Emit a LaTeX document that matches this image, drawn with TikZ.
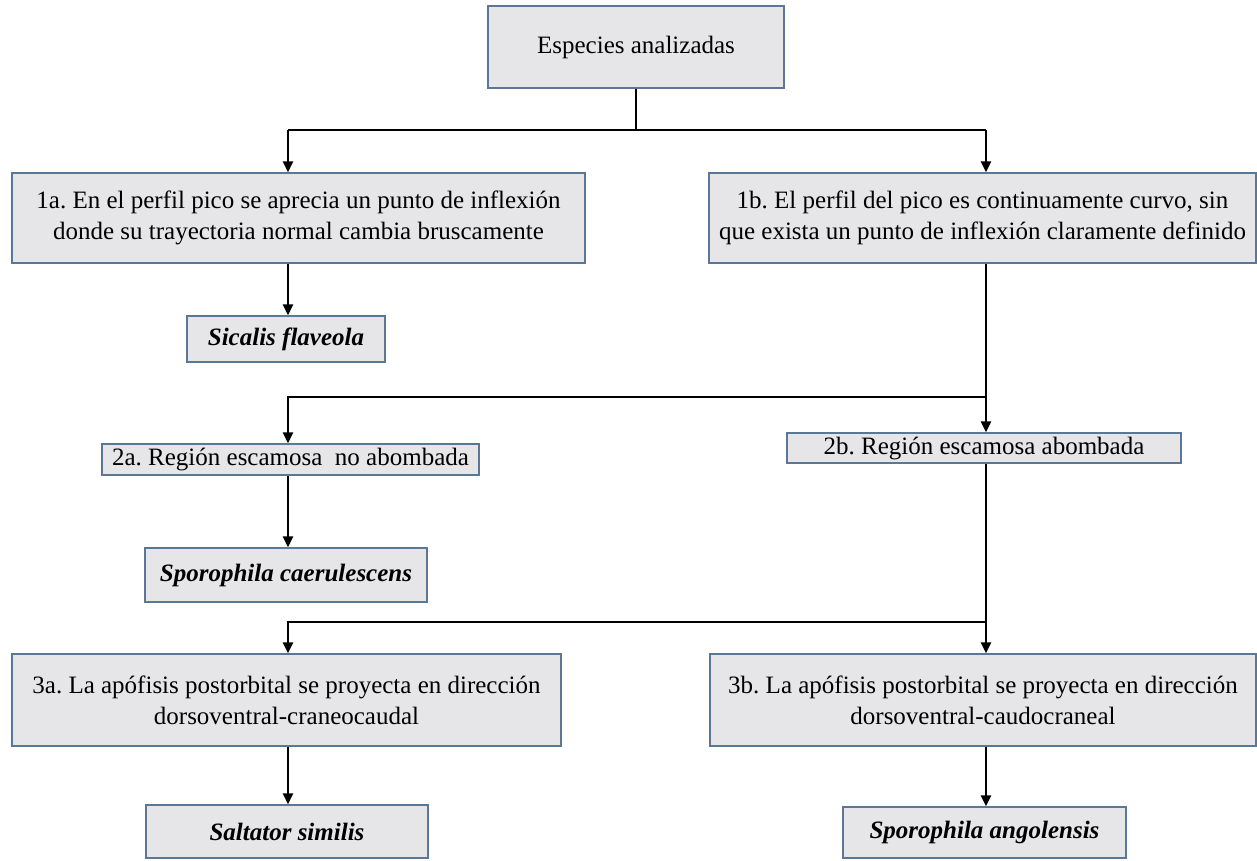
\documentclass[tikz,border=0pt]{standalone}
\usepackage{fontspec}
\setmainfont{Liberation Serif}
\usetikzlibrary{arrows.meta}
\definecolor{boxfill}{HTML}{E6E6E8}
\definecolor{boxline}{HTML}{5A7896}
\frenchspacing
\begin{document}
\begin{tikzpicture}[x=1pt,y=-1pt,
  box/.style={draw=boxline,line width=1.3pt,fill=boxfill,rectangle,inner sep=0pt,align=center,
    font=\fontsize{25}{31}\selectfont\frenchspacing},
  spbox/.style={box,font=\fontsize{25}{31}\selectfont\bfseries\itshape},
  conn/.style={line width=2.6pt,black},
  arr/.style={conn,-{Triangle[length=11pt,width=10pt]}}]
\useasboundingbox (0,0) rectangle (1257,860);
\fill[white] (0,0) rectangle (1257,860);
% nodes
\node[box,minimum width=296pt,minimum height=82pt] (top) at (636,47) {Especies analizadas};
\node[box,minimum width=573pt,minimum height=90pt] (n1a) at (298.5,218) {1a. En el perfil pico se aprecia un punto de inflexión\\donde su trayectoria normal cambia bruscamente};
\node[box,minimum width=547pt,minimum height=90pt] (n1b) at (982.5,218) {1b. El perfil del pico es continuamente curvo, sin\\que exista un punto de inflexión claramente definido};
\node[spbox,minimum width=198pt,minimum height=46pt] (sic) at (286,339) {Sicalis flaveola};
\node[box,minimum width=377pt,minimum height=31pt] (n2a) at (290.5,459.5) {2a. Región escamosa\ \ no abombada};
\node[box,minimum width=394pt,minimum height=30pt] (n2b) at (984,448) {2b. Región escamosa abombada};
\node[spbox,minimum width=282pt,minimum height=54pt] (spc) at (286,575) {Sporophila caerulescens};
\node[box,minimum width=549pt,minimum height=92pt] (n3a) at (286.5,700) {3a. La apófisis postorbital se proyecta en dirección\\dorsoventral-craneocaudal};
\node[box,minimum width=546pt,minimum height=92pt] (n3b) at (983,700) {3b. La apófisis postorbital se proyecta en dirección\\dorsoventral-caudocraneal};
\node[spbox,minimum width=282pt,minimum height=53pt] (sal) at (287,831.5) {Saltator similis};
\node[spbox,minimum width=283pt,minimum height=51pt] (spa) at (984.5,832.5) {Sporophila angolensis};
% branch columns and junctions
\coordinate (xL) at (288,0);
\coordinate (xR) at (986,0);
\coordinate (j1) at (636,130);
\coordinate (j1L) at (288,130);
\coordinate (j1R) at (986,130);
\coordinate (j2) at (986,397);
\coordinate (j2L) at (288,397);
\coordinate (j3) at (986,622);
\coordinate (j3L) at (288,622);
% connectors
\draw[conn] (top.south) -- (j1);
\draw[conn] (j1L) -- (j1R);
\draw[arr] (j1L) -- (j1L |- n1a.north);
\draw[arr] (j1R) -- (j1R |- n1b.north);
\draw[arr] (n1a.south -| xL) -- (sic.north -| xL);
\draw[arr] (n1b.south -| xR) -- (n2b.north -| xR);
\draw[arr] (j2) -- (j2L) -- (j2L |- n2a.north);
\draw[arr] (n2a.south -| xL) -- (spc.north -| xL);
\draw[arr] (n2b.south -| xR) -- (n3b.north -| xR);
\draw[arr] (j3) -- (j3L) -- (j3L |- n3a.north);
\draw[arr] (n3a.south -| xL) -- (sal.north -| xL);
\draw[arr] (n3b.south -| xR) -- (spa.north -| xR);
\end{tikzpicture}
\end{document}
